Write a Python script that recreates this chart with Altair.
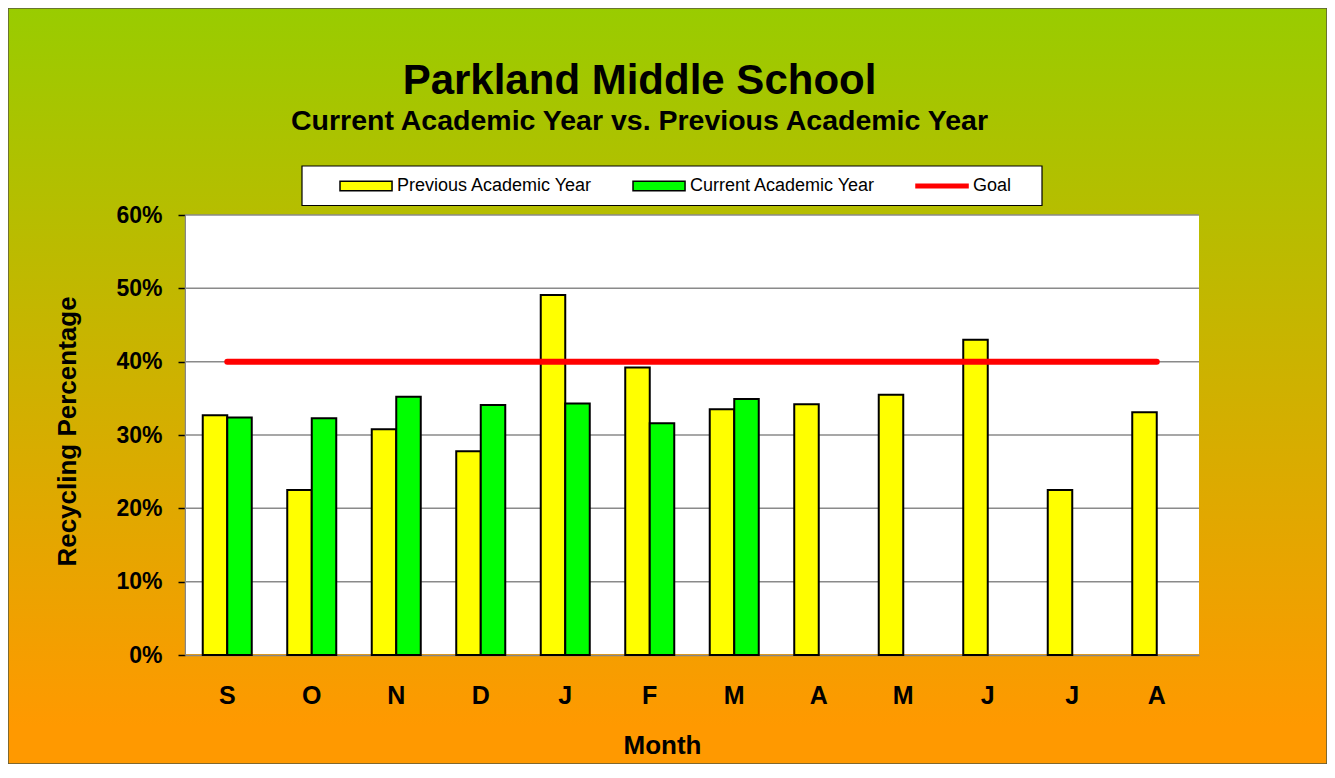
import altair as alt
import pandas as pd

# ---------------- data ----------------
months = ["September", "October", "November", "December", "January", "February",
          "March", "April", "May", "June", "July", "August"]
month_letters = ["S", "O", "N", "D", "J", "F", "M", "A", "M", "J", "J", "A"]
previous_year = [0.327, 0.225, 0.308, 0.278, 0.491, 0.392, 0.335, 0.342, 0.355, 0.430, 0.225, 0.331]
current_year = [0.324, 0.323, 0.352, 0.341, 0.343, 0.316, 0.349, None, None, None, None, None]
goal_value = 0.40
y_ticks = [0.0, 0.1, 0.2, 0.3, 0.4, 0.5, 0.6]
series_names = ["Previous Academic Year", "Current Academic Year", "Goal"]
series_colors = ["#FFFF00", "#00FF00", "#FF0000"]

rows = []
for m, p, c in zip(months, previous_year, current_year):
    rows.append({"month": m, "series": series_names[0], "value": p})
    rows.append({"month": m, "series": series_names[1], "value": c})
bars_df = pd.DataFrame(rows)
goal_df = pd.DataFrame({"month": months, "goal": [goal_value] * len(months)})
grid_df = pd.DataFrame({"v": y_ticks[1:]})

# ---------------- layout (whole chart is the view) ----------------
CW, CH = 1319, 756            # whole chart
PL, PT, PW, PH = 177, 207, 1014, 440   # plot rectangle inside it
FONT = "Liberation Sans"

x_scale = alt.Scale(domain=months, range=[PL, PL + PW], paddingInner=0.42, paddingOuter=0.21)
y_scale = alt.Scale(domain=[0, 0.6], range=[PT + PH, PT], nice=False)

label_expr = ("[" + ",".join("'%s'" % l for l in month_letters) + "][indexof(["
              + ",".join("'%s'" % m for m in months) + "], datum.value)]")

RECT_PATH = "M-1.09,-0.43H3.64V0.43H-1.09Z"
GOAL_PATH = "M-1.09,-0.16H3.64V0.16H-1.09Z"

one = alt.Data(values=[{"a": 1}])

plot_bg = alt.Chart(one).mark_rect(fill="white").encode(
    x=alt.value(PL + 1), x2=alt.value(PL + PW), y=alt.value(PT), y2=alt.value(PT + PH - 1)
)

legend_box = alt.Chart(one).mark_rect(fill="white", stroke="black", strokeWidth=1.2).encode(
    x=alt.value(294), x2=alt.value(1034), y=alt.value(158), y2=alt.value(197.5)
)

grid = alt.Chart(grid_df).mark_rule(color="#8a8a8a", strokeWidth=1.5).encode(
    y=alt.Y("v:Q", scale=y_scale),
    x=alt.value(PL), x2=alt.value(PL + PW),
)

bars = alt.Chart(bars_df).mark_bar(stroke="black", strokeWidth=2).encode(
    x=alt.X("month:N", scale=x_scale, sort=months,
            axis=alt.Axis(title="Month", labelExpr=label_expr, labelAngle=0,
                          labelFont=FONT, labelFontSize=25, labelFontWeight="bold",
                          labelColor="black", labelPadding=28, ticks=False, tickSize=0,
                          domainColor="#868686", domainWidth=1.5, grid=False,
                          offset=-(CH - PT - PH),
                          titleFont=FONT, titleFontSize=26, titleFontWeight="bold",
                          titleColor="black", titlePadding=24, titleX=654)),
    xOffset=alt.XOffset("series:N",
                        scale=alt.Scale(domain=series_names[:2], paddingInner=0, paddingOuter=0)),
    y=alt.Y("value:Q", scale=y_scale,
            axis=alt.Axis(title="Recycling Percentage", values=y_ticks, format=".0%",
                          grid=False, labelFont=FONT, labelFontSize=23, labelFontWeight="bold",
                          labelColor="black", labelPadding=16, tickSize=7, tickColor="black",
                          tickWidth=1.5, domainColor="#868686", domainWidth=1.5,
                          offset=-PL,
                          titleFont=FONT, titleFontSize=26, titleFontWeight="bold",
                          titleColor="black", titlePadding=35, titleY=423)),
    color=alt.Color("series:N",
                    scale=alt.Scale(domain=series_names, range=series_colors),
                    legend=alt.Legend(
                        orient="none", legendX=332, legendY=166, direction="horizontal",
                        title=None, padding=0, columnPadding=37,
                        labelFont=FONT, labelFontSize=18, labelColor="black",
                        labelOffset=33, labelLimit=0,
                        symbolSize=484,
                        symbolType=alt.ExprRef(expr="datum.value === 'Goal' ? '%s' : '%s'" % (GOAL_PATH, RECT_PATH)),
                        symbolStrokeColor=alt.ExprRef(expr="datum.value === 'Goal' ? '#FF0000' : '#000000'"),
                        zindex=1)),
)

goal = alt.Chart(goal_df).mark_line(color="#FF0000", strokeWidth=6, strokeCap="round").encode(
    x=alt.X("month:N", scale=x_scale, sort=months),
    y=alt.Y("goal:Q", scale=y_scale),
)

gradient = {
    "gradient": "linear", "x1": 0, "x2": 0, "y1": 0, "y2": 1,
    "stops": [{"offset": 0, "color": "#99CC00"}, {"offset": 0.95, "color": "#FF9900"}],
}

chart = alt.layer(plot_bg, legend_box, grid, bars, goal).properties(
    width=CW, height=CH, padding=0,
    autosize=alt.AutoSizeParams(type="none"),
    title=alt.TitleParams(
        text="Parkland Middle School",
        subtitle="Current Academic Year vs. Previous Academic Year",
        font=FONT, fontSize=42, fontWeight="bold", color="black",
        subtitleFont=FONT, subtitleFontSize=28.5, subtitleFontWeight="bold",
        subtitleColor="black", subtitlePadding=4,
        anchor="middle", dx=-28, offset=-128, zindex=1),
).configure(
    style={"cell": {"fill": gradient, "stroke": "#5a5a3c", "strokeWidth": 1.5}}
)

chart.save("out.html", embed_options={"renderer": "svg", "actions": False})
